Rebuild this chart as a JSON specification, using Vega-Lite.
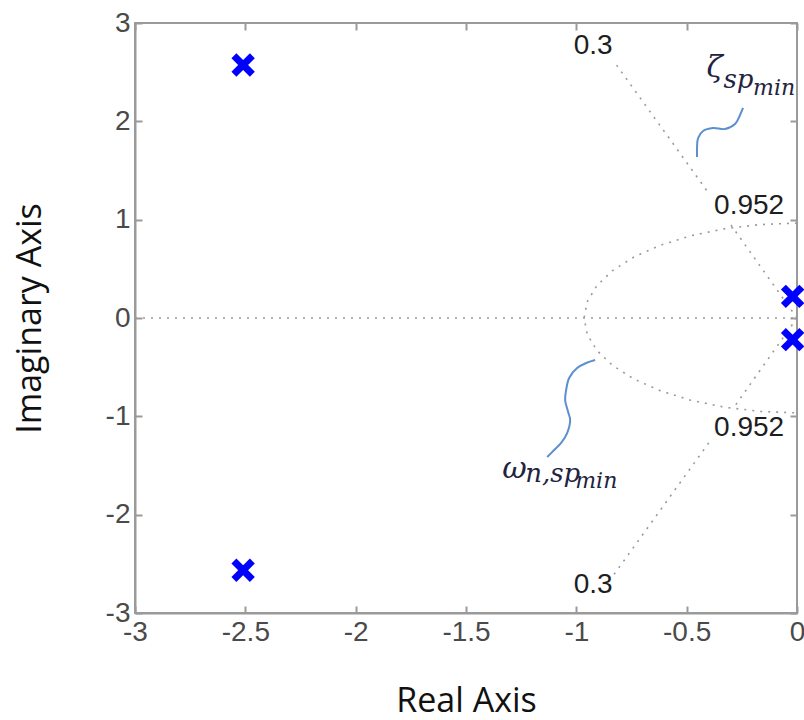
{
  "$schema": "https://vega.github.io/schema/vega-lite/v6.json",
  "width": 662,
  "height": 590,
  "autosize": {"type": "none"},
  "padding": {"left": 135, "top": 23, "right": 7, "bottom": 107},
  "background": "white",
  "config": {
    "view": {"stroke": "#9a9a9a", "strokeWidth": 2},
    "axis": {
      "domainColor": "#9a9a9a", "domainWidth": 2,
      "tickColor": "#9a9a9a", "tickWidth": 2, "tickSize": -7,
      "grid": false,
      "labelFont": "Liberation Sans", "labelFontSize": 28, "labelColor": "#4a4a4a",
      "labelPadding": 12, "labelFlush": false, "labelOverlap": false, "labelBound": false,
      "titleFont": "Open Sans", "titleFontSize": 34, "titleFontWeight": "normal", "titleColor": "#111111"
    }
  },
  "datasets": {
    "grid": [
      {"g": "zero", "i": 0, "x": -3, "y": 0},
      {"g": "zero", "i": 1, "x": 0, "y": 0},
      {"g": "circle", "i": 0, "x": 0, "y": 0.965},
      {"g": "circle", "i": 1, "x": -0.1675, "y": 0.9503},
      {"g": "circle", "i": 2, "x": -0.33, "y": 0.9068},
      {"g": "circle", "i": 3, "x": -0.4825, "y": 0.8357},
      {"g": "circle", "i": 4, "x": -0.6203, "y": 0.7392},
      {"g": "circle", "i": 5, "x": -0.7392, "y": 0.6203},
      {"g": "circle", "i": 6, "x": -0.8357, "y": 0.4825},
      {"g": "circle", "i": 7, "x": -0.9068, "y": 0.33},
      {"g": "circle", "i": 8, "x": -0.9503, "y": 0.1675},
      {"g": "circle", "i": 9, "x": -0.965, "y": 0},
      {"g": "circle", "i": 10, "x": -0.9503, "y": -0.1675},
      {"g": "circle", "i": 11, "x": -0.9068, "y": -0.33},
      {"g": "circle", "i": 12, "x": -0.8357, "y": -0.4825},
      {"g": "circle", "i": 13, "x": -0.7392, "y": -0.6203},
      {"g": "circle", "i": 14, "x": -0.6203, "y": -0.7392},
      {"g": "circle", "i": 15, "x": -0.4825, "y": -0.8357},
      {"g": "circle", "i": 16, "x": -0.33, "y": -0.9068},
      {"g": "circle", "i": 17, "x": -0.1675, "y": -0.9503},
      {"g": "circle", "i": 18, "x": 0, "y": -0.965},
      {"g": "zu1", "i": 0, "x": 0, "y": 0},
      {"g": "zu1", "i": 1, "x": -0.31, "y": 0.98},
      {"g": "zu2", "i": 0, "x": -0.41, "y": 1.3},
      {"g": "zu2", "i": 1, "x": -0.833, "y": 2.62},
      {"g": "zl1", "i": 0, "x": 0, "y": 0},
      {"g": "zl1", "i": 1, "x": -0.28, "y": -0.89},
      {"g": "zl2", "i": 0, "x": -0.4, "y": -1.27},
      {"g": "zl2", "i": 1, "x": -0.833, "y": -2.62}
    ],
    "squiggle": [
      {"s": "top", "i": 0, "x": -0.2446, "y": 2.136},
      {"s": "top", "i": 1, "x": -0.2582, "y": 2.064},
      {"s": "top", "i": 2, "x": -0.2808, "y": 1.973},
      {"s": "top", "i": 3, "x": -0.3261, "y": 1.922},
      {"s": "top", "i": 4, "x": -0.3804, "y": 1.932},
      {"s": "top", "i": 5, "x": -0.4257, "y": 1.902},
      {"s": "top", "i": 6, "x": -0.4484, "y": 1.83},
      {"s": "top", "i": 7, "x": -0.4529, "y": 1.739},
      {"s": "top", "i": 8, "x": -0.4529, "y": 1.637},
      {"s": "bot", "i": 0, "x": -0.9149, "y": -0.427},
      {"s": "bot", "i": 1, "x": -0.9556, "y": -0.458},
      {"s": "bot", "i": 2, "x": -0.9964, "y": -0.509},
      {"s": "bot", "i": 3, "x": -1.0326, "y": -0.61},
      {"s": "bot", "i": 4, "x": -1.0462, "y": -0.732},
      {"s": "bot", "i": 5, "x": -1.0507, "y": -0.834},
      {"s": "bot", "i": 6, "x": -1.0371, "y": -0.956},
      {"s": "bot", "i": 7, "x": -1.0281, "y": -1.037},
      {"s": "bot", "i": 8, "x": -1.0417, "y": -1.17},
      {"s": "bot", "i": 9, "x": -1.0688, "y": -1.271},
      {"s": "bot", "i": 10, "x": -1.1051, "y": -1.353},
      {"s": "bot", "i": 11, "x": -1.1322, "y": -1.414}
    ],
    "poles": [
      {"x": -2.51, "y": 2.573},
      {"x": -2.51, "y": -2.565},
      {"x": -0.02, "y": 0.22},
      {"x": -0.02, "y": -0.22}
    ],
    "gridlabels": [
      {"label": "0.3", "x": -0.924, "y": 2.766},
      {"label": "0.3", "x": -0.924, "y": -2.715},
      {"label": "0.952", "x": -0.217, "y": 1.144},
      {"label": "0.952", "x": -0.217, "y": -1.119}
    ],
    "math": [
      {"t": "ζ", "lvl": "main", "x": -0.41, "y": 2.451},
      {"t": "sp", "lvl": "sub", "x": -0.333, "y": 2.339},
      {"t": "min", "lvl": "subsub", "x": -0.199, "y": 2.268},
      {"t": "ω", "lvl": "main", "x": -1.336, "y": -1.627},
      {"t": "n,sp", "lvl": "sub", "x": -1.232, "y": -1.668},
      {"t": "min", "lvl": "subsub", "x": -1.005, "y": -1.729}
    ]
  },
  "layer": [
    {
      "data": {"name": "grid"},
      "mark": {"type": "line", "color": "#9a9a9a", "strokeWidth": 1.6, "strokeDash": [2, 6], "clip": true},
      "encoding": {
        "x": {"field": "x", "type": "quantitative", "scale": {"domain": [-3, 0], "nice": false, "zero": false},
              "axis": {"orient": "bottom", "values": [-3, -2.5, -2, -1.5, -1, -0.5, 0], "labelExpr": "'' + datum.value", "title": "Real Axis", "titlePadding": 38}},
        "y": {"field": "y", "type": "quantitative", "scale": {"domain": [-3, 3], "nice": false, "zero": false},
              "axis": {"orient": "left", "values": [-3, -2, -1, 0, 1, 2, 3], "labelExpr": "'' + datum.value", "title": "Imaginary Axis", "titlePadding": 58}},
        "detail": {"field": "g"},
        "order": {"field": "i", "type": "quantitative"}
      }
    },
    {
      "data": {"name": "squiggle"},
      "mark": {"type": "line", "color": "#5b8fd0", "strokeWidth": 2, "interpolate": "catmull-rom"},
      "encoding": {
        "x": {"field": "x", "type": "quantitative", "axis": {"orient": "top", "values": [-3, -2.5, -2, -1.5, -1, -0.5, 0], "labels": false, "title": null, "domain": false}},
        "y": {"field": "y", "type": "quantitative", "axis": {"orient": "right", "values": [-3, -2, -1, 0, 1, 2, 3], "labels": false, "title": null, "domain": false}},
        "detail": {"field": "s"},
        "order": {"field": "i", "type": "quantitative"}
      }
    },
    {
      "data": {"name": "poles"},
      "mark": {"type": "point", "shape": "M-1,-1L1,1M-1,1L1,-1", "size": 340, "stroke": "#0000ff", "strokeWidth": 7, "filled": false, "opacity": 1},
      "encoding": {
        "x": {"field": "x", "type": "quantitative", "axis": null},
        "y": {"field": "y", "type": "quantitative", "axis": null}
      }
    },
    {
      "data": {"name": "gridlabels"},
      "mark": {"type": "text", "font": "Liberation Sans", "fontSize": 28, "color": "#1e1e1e", "align": "center", "baseline": "middle"},
      "encoding": {
        "x": {"field": "x", "type": "quantitative", "axis": null},
        "y": {"field": "y", "type": "quantitative", "axis": null},
        "text": {"field": "label"}
      }
    },
    {
      "data": {"name": "math"},
      "mark": {"type": "text", "font": "DejaVu Serif", "fontStyle": "italic", "color": "#23233f", "align": "left", "baseline": "alphabetic"},
      "encoding": {
        "x": {"field": "x", "type": "quantitative", "axis": null},
        "y": {"field": "y", "type": "quantitative", "axis": null},
        "text": {"field": "t"},
        "size": {"field": "lvl", "type": "nominal", "scale": {"domain": ["main", "sub", "subsub"], "range": [30, 22, 18]}, "legend": null}
      }
    }
  ],
  "resolve": {"axis": {"x": "independent", "y": "independent"}}
}
